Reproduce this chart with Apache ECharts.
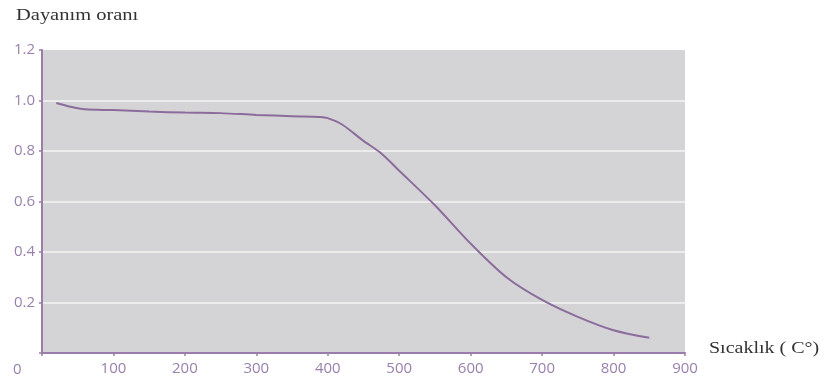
<!DOCTYPE html>
<html>
<head>
<meta charset="utf-8">
<script src="https://cdn.jsdelivr.net/npm/echarts@6/dist/echarts.min.js"></script>
<style>
html,body{margin:0;padding:0;background:#fff;}
#c{width:827px;height:383px;}
</style>
</head>
<body>
<div id="c"></div>
<script>
const yTitle = 'Dayanım oranı';
const xTitle = 'Sıcaklık ( C°)';
const temps  = [20, 40, 60, 100, 150, 200, 250, 300, 350, 390, 400, 420, 450, 475, 500, 550, 600, 650, 700, 750, 800, 850];
const ratios = [0.99, 0.975, 0.965, 0.962, 0.956, 0.952, 0.95, 0.943, 0.938, 0.935, 0.93, 0.905, 0.84, 0.79, 0.722, 0.585, 0.433, 0.30, 0.21, 0.143, 0.09, 0.06];
const xMin = 0, xMax = 900, xStep = 100;
const yMin = 0, yMax = 1.2, yStep = 0.2;

const purple = '#9a7dab';
const chart = echarts.init(document.getElementById('c'));
chart.setOption({
  animation: false,
  grid: {left: 42, right: 142, top: 50, bottom: 30, show: true, backgroundColor: '#d4d4d6', borderWidth: 0},
  xAxis: {
    type: 'value', min: xMin, max: xMax, interval: xStep,
    axisLine: {show: true, onZero: false, lineStyle: {color: purple, width: 2}},
    axisTick: {show: true, length: 3, lineStyle: {color: purple, width: 1.5}},
    splitLine: {show: false},
    axisLabel: {color: '#9a80ad', fontFamily: 'Open Sans', fontSize: 15, margin: 8,
      formatter: v => v === 0 ? '' : String(v)}
  },
  yAxis: {
    type: 'value', min: yMin, max: yMax, interval: yStep,
    axisLine: {show: true, lineStyle: {color: purple, width: 2}},
    axisTick: {show: true, length: 3, lineStyle: {color: purple, width: 1.5}},
    splitLine: {show: true, showMinLine: false, showMaxLine: false, lineStyle: {color: '#ececec', width: 2}},
    axisLabel: {color: '#9a80ad', fontFamily: 'Open Sans', fontSize: 15, margin: 7,
      formatter: v => v === 0 ? '' : v.toFixed(1)}
  },
  graphic: [
    {type: 'text', left: 16, top: 8, scaleX: 1.28, style: {text: yTitle, font: '16px "Liberation Serif"', fill: '#333'}},
    {type: 'text', left: 709, top: 341, scaleX: 1.25, style: {text: xTitle, font: '16px "Liberation Serif"', fill: '#333'}},
    {type: 'text', left: 13, top: 362, style: {text: '0', font: '15px "Open Sans"', fill: '#9a80ad'}}
  ],
  series: [{
    type: 'line', smooth: 0.3, symbol: 'none',
    data: temps.map((t, i) => [t, ratios[i]]),
    lineStyle: {color: '#8c6c9c', width: 2}
  }]
});
</script>
</body>
</html>
